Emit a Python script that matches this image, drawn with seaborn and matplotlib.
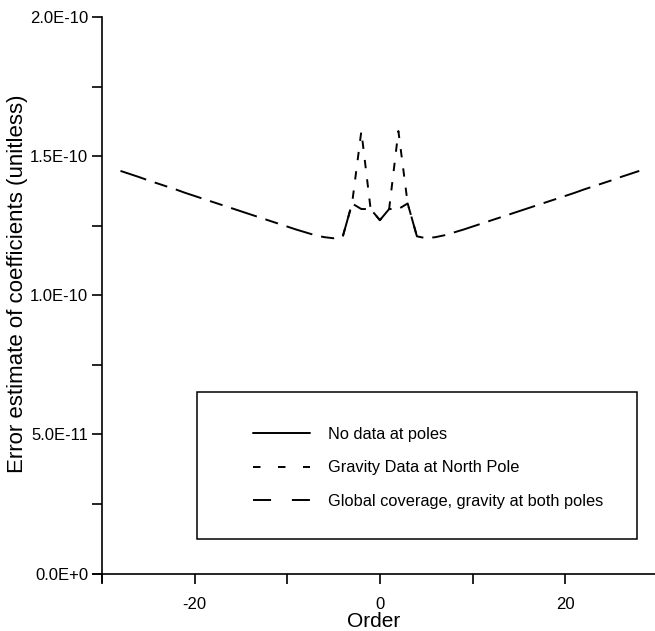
import numpy as np
import pandas as pd
import matplotlib
matplotlib.use("Agg")
import matplotlib.pyplot as plt
import seaborn as sns
from matplotlib.lines import Line2D
from matplotlib.patches import Rectangle

# ---------------- data (values in units of 1e-10) ----------------
orders_global = list(range(-28, 29))
global_cov = [1.447, 1.436, 1.425, 1.413, 1.402, 1.391, 1.380, 1.368, 1.357, 1.346,
              1.335, 1.324, 1.313, 1.302, 1.291, 1.280, 1.269, 1.258, 1.247, 1.236,
              1.226, 1.216, 1.209, 1.205, 1.212, 1.330, 1.310, 1.310, 1.270, 1.310,
              1.310, 1.330, 1.212, 1.205, 1.209, 1.216, 1.226, 1.236, 1.247, 1.258,
              1.269, 1.280, 1.291, 1.302, 1.313, 1.324, 1.335, 1.346, 1.357, 1.368,
              1.380, 1.391, 1.402, 1.413, 1.425, 1.436, 1.447]
orders_north = [-4, -3, -2, -1, 0, 1, 2, 3, 4]
north_pole = [1.212, 1.330, 1.590, 1.310, 1.270, 1.310, 1.590, 1.330, 1.212]

series_names = ["No data at poles",
                "Gravity Data at North Pole",
                "Global coverage, gravity at both poles"]

y_ticks = [0.0, 0.5e-10, 1.0e-10, 1.5e-10, 2.0e-10]
y_tick_labels = ["0.0E+0", "5.0E-11", "1.0E-10", "1.5E-10", "2.0E-10"]
y_minor = [0.25e-10, 0.75e-10, 1.25e-10, 1.75e-10]
x_ticks = [-30, -20, -10, 0, 10, 20]
x_tick_labels = ["", "-20", "", "0", "", "20"]

# ---------------- style ----------------
sns.set_theme(style="ticks")
plt.rcParams["font.family"] = ["Liberation Sans", "DejaVu Sans"]
plt.rcParams["lines.scale_dashes"] = False

W, H = 655, 631
fig = plt.figure(figsize=(W / 100, H / 100), dpi=100)
left_px, right_px, top_px, bottom_px = 92.7, 655, 17, 582
ax_w = right_px - left_px
ax_h = bottom_px - top_px
ax = fig.add_axes([left_px / W, 1 - bottom_px / H, ax_w / W, ax_h / H])

df = pd.concat([
    pd.DataFrame({"order": orders_global,
                  "value": np.array(global_cov) * 1e-10,
                  "series": series_names[2]}),
    pd.DataFrame({"order": orders_north,
                  "value": np.array(north_pole) * 1e-10,
                  "series": series_names[1]}),
], ignore_index=True)

sns.lineplot(data=df, x="order", y="value", style="series",
             style_order=[series_names[2], series_names[1]],
             dashes={series_names[2]: (19.5, 6.5, 9.5, 6.5),
                     series_names[1]: (6.0, 8.0)},
             color="black", linewidth=1.4, legend=False,
             estimator=None, sort=False, ax=ax)

ax.set_xlim(-31, 29.7)
ax.set_ylim(-0.03e-10, 2.0e-10)

for s in ["top", "right"]:
    ax.spines[s].set_visible(False)
ax.spines["left"].set_position(("data", -30))
ax.spines["bottom"].set_position(("data", 0))
for s in ["left", "bottom"]:
    ax.spines[s].set_linewidth(1.2)
    ax.spines[s].set_color("black")

ax.set_xticks(x_ticks)
ax.set_xticklabels(x_tick_labels)
ax.set_yticks(y_ticks)
ax.set_yticklabels(y_tick_labels)
ax.set_yticks(y_minor, minor=True)
ax.tick_params(axis="both", which="both", direction="out", length=7,
               width=1.2, color="black", labelsize=12, labelcolor="black")
ax.tick_params(axis="y", pad=3)
ax.tick_params(axis="x", pad=10)

ax.set_xlabel("Order", fontsize=15, color="black", labelpad=0)
ax.set_ylabel("Error estimate of coefficients (unitless)", fontsize=16,
              color="black")
ax.yaxis.set_label_coords((28 - left_px) / ax_w, (bottom_px - 284) / ax_h)
ax.grid(False)

# legend box
rect = Rectangle((197 / W, 1 - 539 / H), 440 / W, 147 / H,
                 transform=fig.transFigure, fill=False,
                 edgecolor="black", linewidth=1.1, zorder=5)
fig.add_artist(rect)

handles = [
    Line2D([], [], color="black", linewidth=1.4, linestyle="-"),
    Line2D([], [], color="black", linewidth=1.4, dashes=(5.4, 12.6)),
    Line2D([], [], color="black", linewidth=1.4, dashes=(13.0, 15.0)),
]
leg = ax.legend(handles, series_names, loc="upper left",
                bbox_to_anchor=(253 / W, 1 - 427 / H),
                bbox_transform=fig.transFigure, frameon=False,
                fontsize=11.8, handlelength=3.48, handletextpad=1.1,
                labelspacing=1.12, borderpad=0, borderaxespad=0)
for t in leg.get_texts():
    t.set_color("black")

fig.savefig("out.png", dpi=100, facecolor="white")
